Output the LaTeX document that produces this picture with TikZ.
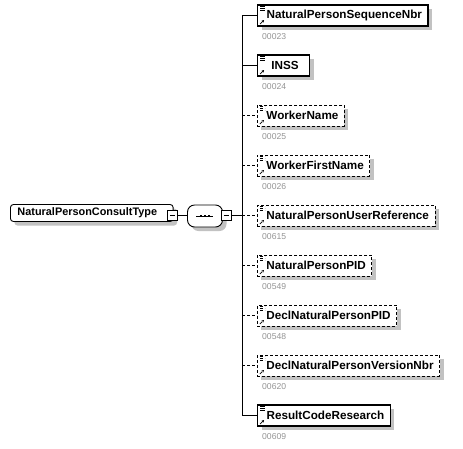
\documentclass[tikz,border=0pt]{standalone}
\usepackage{fontspec}
\setmainfont{Liberation Sans}
\usetikzlibrary{arrows.meta,positioning,shadows}

\begin{document}
\begin{tikzpicture}[
  x=1pt, y=-1pt,
  font=\fontsize{8.6}{10}\selectfont,
  shade/.style={drop shadow={shadow xshift=4pt, shadow yshift=-4pt, fill=black!24, opacity=1}},
  ctype/.style={draw=black, line width=0.9pt, fill=white, shade, rounded corners=3pt,
                anchor=west, minimum height=17pt, inner xsep=7pt,
                inner ysep=0pt, font=\bfseries\fontsize{10.9}{13}\selectfont},
  seqbox/.style={draw=black, line width=0.9pt, fill=white, shade, rounded corners=7pt,
                 minimum width=35pt, minimum height=22pt, inner sep=0pt},
  tog/.style={draw=black, line width=0.8pt, fill=white, minimum size=9.5pt, inner sep=0pt,
              path picture={\draw[line width=0.8pt] ([xshift=2pt]path picture bounding box.west)
                            -- ([xshift=-2pt]path picture bounding box.east);}},
  elem/.style={draw=black, line width=1.2pt, fill=white, shade, anchor=west, minimum height=21pt,
               minimum width=52pt, inner xsep=6pt, inner ysep=0pt,
               font=\bfseries\fontsize{11.7}{14}\selectfont,
               path picture={
                 \draw[line width=0.6pt]
                   ([xshift=2.5pt,yshift=-1.5pt]path picture bounding box.north west) -- ++(5pt,0pt)
                   ([xshift=2.5pt,yshift=-3.5pt]path picture bounding box.north west) -- ++(5pt,0pt)
                   ([xshift=2.5pt,yshift=-5.5pt]path picture bounding box.north west) -- ++(5pt,0pt);
                 \draw[line width=0.7pt, -{Stealth[length=2.6pt,width=2.6pt]}]
                   ([xshift=2.5pt,yshift=2pt]path picture bounding box.south west) -- ++(4pt,4pt);}},
  optelem/.style={elem, line width=0.9pt, dash pattern=on 3pt off 2pt},
  num/.style={anchor=west, inner sep=0pt, text=black!42},
  conn/.style={draw=black, line width=0.9pt},
  optconn/.style={conn, dash pattern=on 3pt off 2pt}
]
\useasboundingbox (0,0) rectangle (463,448);

% complex type and its sequence
\node[ctype] (ptype) at (10,213) {NaturalPersonConsultType\hspace*{9pt}};
\node[tog] (tmin) at (172.5,215.5) {};
\node[seqbox] (seq) at (205,216) {};
\draw[line width=0.9pt] ([xshift=-9pt]seq.center) -- ([xshift=8pt]seq.center);
\foreach \dx in {-4,0,4}
  \fill ([xshift=\dx pt]seq.center) +(-1.2pt,-1.2pt) rectangle +(1.2pt,1.2pt);
\node[tog] (smin) at (226.5,215.5) {};
\draw[conn] (tmin.east) -- (tmin.east -| seq.west);
\coordinate (rake) at (242,0);
\draw[conn] (smin.east) -- (rake |- smin.east);

% child elements
\node[elem] (seqnbr) at (257,15.5) {\hspace*{3pt}NaturalPersonSequenceNbr};
\node[num] (n1) at (262,37) {00023};
\node[elem] (inss) at (257,65.5) {\hspace*{3pt}INSS};
\node[num] (n2) at (262,87) {00024};
\node[optelem] (wname) at (257,115.5) {\hspace*{3pt}WorkerName};
\node[num] (n3) at (262,137) {00025};
\node[optelem] (wfirst) at (257,165.5) {\hspace*{3pt}WorkerFirstName};
\node[num] (n4) at (262,187) {00026};
\node[optelem] (uref) at (257,215.5) {\hspace*{3pt}NaturalPersonUserReference};
\node[num] (n5) at (262,237) {00615};
\node[optelem] (pid) at (257,265.5) {\hspace*{3pt}NaturalPersonPID};
\node[num] (n6) at (262,287) {00549};
\node[optelem] (declpid) at (257,315.5) {\hspace*{3pt}DeclNaturalPersonPID};
\node[num] (n7) at (262,337) {00548};
\node[optelem] (declver) at (257,365.5) {\hspace*{3pt}DeclNaturalPersonVersionNbr};
\node[num] (n8) at (262,387) {00620};
\node[elem] (rescode) at (257,415.5) {\hspace*{3pt}ResultCodeResearch};
\node[num] (n9) at (262,437) {00609};

% rake
\draw[conn] (rake |- seqnbr) -- (rake |- rescode);
\draw[conn] (rake |- seqnbr) -- (seqnbr.west);
\draw[conn] (rake |- inss) -- (inss.west);
\draw[optconn] (rake |- wname) -- (wname.west);
\draw[optconn] (rake |- wfirst) -- (wfirst.west);
\draw[optconn] (rake |- uref) -- (uref.west);
\draw[optconn] (rake |- pid) -- (pid.west);
\draw[optconn] (rake |- declpid) -- (declpid.west);
\draw[optconn] (rake |- declver) -- (declver.west);
\draw[conn] (rake |- rescode) -- (rescode.west);
\end{tikzpicture}
\end{document}
